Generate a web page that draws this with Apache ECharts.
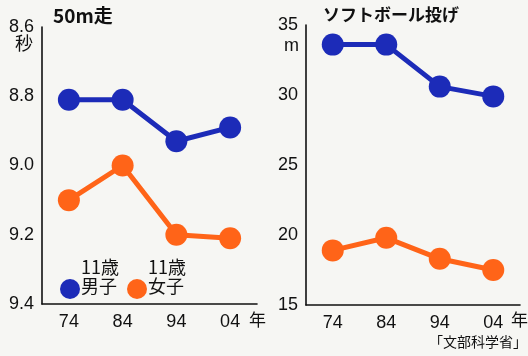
<!DOCTYPE html>
<html>
<head>
<meta charset="utf-8">
<script src="https://cdn.jsdelivr.net/npm/echarts@6/dist/echarts.min.js"></script>
<style>
html, body { margin: 0; padding: 0; background: #f6f6f3; }
#chart { width: 528px; height: 356px; }
</style>
</head>
<body>
<div id="chart"></div>
<script>
// Survey years (x axis)
const years = ['74', '84', '94', '04'];

// 50m run, seconds (11-year-olds)
const run50Boys  = [8.81, 8.81, 8.93, 8.89];
const run50Girls = [9.10, 9.00, 9.20, 9.21];

// Softball throw, metres (11-year-olds)
const throwBoys  = [33.6, 33.6, 30.6, 29.9];
const throwGirls = [18.9, 19.8, 18.3, 17.5];

// Tick values of the two value axes
const runTicks   = [8.6, 8.8, 9.0, 9.2, 9.4];
const throwTicks = [15, 20, 25, 30, 35];

const BLUE = '#1c2bb8';
const ORANGE = '#ff6418';
const FONT = '"Liberation Sans", Arial, "Noto Sans CJK JP", sans-serif';
const CJK = '"Noto Sans CJK JP", sans-serif';

const chart = echarts.init(document.getElementById('chart'));

function catAxis(gridIndex) {
  return {
    type: 'category', gridIndex, data: years, boundaryGap: true,
    axisLine: { lineStyle: { color: '#111', width: 1.6 } },
    axisTick: { show: false },
    axisLabel: { color: '#111', fontSize: 18, fontFamily: FONT, margin: 9 }
  };
}
function valAxis(gridIndex, ticks, inverse, fmt) {
  return {
    type: 'value', gridIndex, inverse,
    min: ticks[0], max: ticks[ticks.length - 1],
    interval: ticks[1] - ticks[0],
    axisLine: { show: true, lineStyle: { color: '#111', width: 1.6 } },
    axisTick: { show: false },
    splitLine: { show: false },
    axisLabel: { color: '#111', fontSize: 18, fontFamily: FONT, margin: 8, formatter: fmt }
  };
}
function lineSeries(x, data, color) {
  return {
    type: 'line', xAxisIndex: x, yAxisIndex: x, data,
    symbol: 'circle', symbolSize: 22,
    lineStyle: { color, width: 5 },
    itemStyle: { color },
    z: 3
  };
}

chart.setOption({
  backgroundColor: '#f6f6f3',
  animation: false,
  grid: [
    { left: 42, top: 27, width: 215, height: 277 },
    { left: 306, top: 25, width: 214, height: 280 }
  ],
  xAxis: [catAxis(0), catAxis(1)],
  yAxis: [
    valAxis(0, runTicks, true, v => v.toFixed(1)),
    valAxis(1, throwTicks, false, v => String(Math.round(v)))
  ],
  series: [
    lineSeries(0, run50Boys, BLUE),
    lineSeries(0, run50Girls, ORANGE),
    lineSeries(1, throwBoys, BLUE),
    lineSeries(1, throwGirls, ORANGE)
  ],
  graphic: [
    { type: 'text', left: 53, top: 6, style: { text: '50m走', font: 'bold 19px ' + CJK, fill: '#111' } },
    { type: 'text', left: 323, top: 6, style: { text: 'ソフトボール投げ', font: 'bold 17px ' + CJK, fill: '#111' } },
    { type: 'text', left: 15, top: 34, style: { text: '秒', font: '18px ' + CJK, fill: '#111' } },
    { type: 'text', left: 284, top: 37, style: { text: 'm', font: '18px ' + FONT, fill: '#111' } },
    { type: 'text', left: 249, top: 311, style: { text: '年', font: '17px ' + CJK, fill: '#111' } },
    { type: 'text', left: 511, top: 311, style: { text: '年', font: '17px ' + CJK, fill: '#111' } },
    // legend
    { type: 'circle', shape: { cx: 70, cy: 289, r: 10 }, style: { fill: BLUE } },
    { type: 'text', left: 81, top: 258, style: { text: '11歳', font: '18px ' + CJK, fill: '#111' } },
    { type: 'text', left: 81, top: 277, style: { text: '男子', font: '18px ' + CJK, fill: '#111' } },
    { type: 'circle', shape: { cx: 137, cy: 289, r: 10 }, style: { fill: ORANGE } },
    { type: 'text', left: 148, top: 258, style: { text: '11歳', font: '18px ' + CJK, fill: '#111' } },
    { type: 'text', left: 148, top: 277, style: { text: '女子', font: '18px ' + CJK, fill: '#111' } },
    { type: 'text', right: 1, top: 335, style: { text: '「文部科学省」', font: '14px ' + CJK, fill: '#111' } }
  ]
});
</script>
</body>
</html>
